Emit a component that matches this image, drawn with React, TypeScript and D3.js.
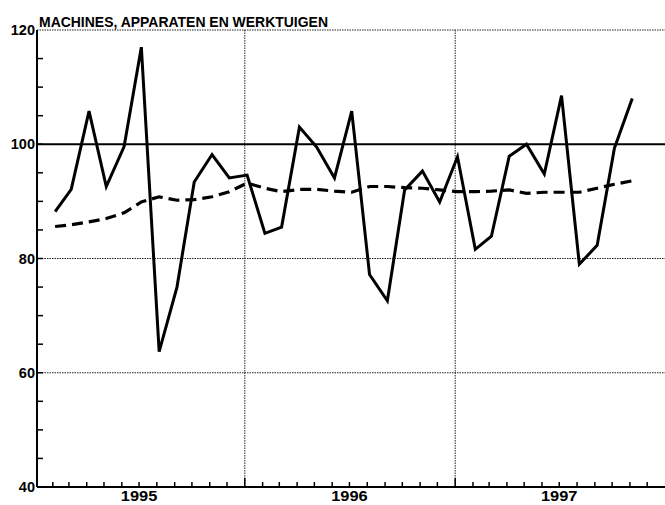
import React from "react";
import * as d3 from "d3";

const TITLE = "MACHINES, APPARATEN EN WERKTUIGEN";
const startYear = 1995;
const startMonth = 1; // February (0-based)
const actual = [88.2, 92.1, 105.8, 92.6, 99.6, 117.0, 63.7, 75.0, 93.4, 98.2, 94.1, 94.6, 84.4, 85.5, 103.0, 99.5, 94.1, 105.8, 77.2, 72.6, 92.0, 95.3, 89.9, 97.8, 81.6, 83.9, 97.9, 100.0, 94.8, 108.5, 79.0, 82.3, 99.3, 108.0];
const trend = [85.6, 85.9, 86.4, 87.0, 88.0, 89.9, 90.8, 90.2, 90.3, 90.8, 91.7, 93.2, 92.3, 91.7, 92.1, 92.1, 91.8, 91.6, 92.6, 92.6, 92.4, 92.3, 92.0, 91.7, 91.7, 91.8, 92.0, 91.4, 91.6, 91.6, 91.6, 92.3, 93.0, 93.6];
const yLabels = [40, 60, 80, 100, 120];
const yGrid = [60, 80, 120];
const yearLabels = [1995, 1996, 1997];

const W = 665, H = 505;
const left = 35, right = 665, top = 30, bottom = 487;

export default function App() {
  const x = d3.scaleTime().domain([new Date(1995, 0, 1), new Date(1998, 0, 1)]).range([left, right]);
  const y = d3.scaleLinear().domain([40, 120]).range([bottom, top]);
  const dates = actual.map((_, i) => new Date(startYear, startMonth + i, 5));
  const line = d3.line<number>().x((_, i) => x(dates[i])).y((d) => y(d));
  const monthTicks = x.ticks(d3.timeMonth.every(1)!).filter((d) => d > x.domain()[0] && d < x.domain()[1]);
  const minorY = d3.range(45, 120, 5);
  const axisX = left + 2;
  const font = "'Liberation Sans', Arial, sans-serif";

  return (
    <svg width={W} height={H} style={{ position: "absolute", left: 0, top: 0, background: "#fff" }}>
      <rect x={0} y={0} width={W} height={H} fill="#fff" />
      {yGrid.map((v) => (
        <line key={v} x1={axisX} x2={right} y1={y(v)} y2={y(v)} stroke="#222" strokeWidth={1} strokeDasharray="1.5 1" />
      ))}
      {[1996, 1997].map((yr) => (
        <line key={yr} x1={x(new Date(yr, 0, 1))} x2={x(new Date(yr, 0, 1))} y1={top} y2={bottom} stroke="#222" strokeWidth={1} strokeDasharray="1.5 1" />
      ))}
      <line x1={axisX} x2={right} y1={y(100)} y2={y(100)} stroke="#000" strokeWidth={1.8} />
      <line x1={axisX} x2={axisX} y1={top} y2={bottom} stroke="#000" strokeWidth={2} />
      <line x1={axisX} x2={right} y1={bottom} y2={bottom} stroke="#000" strokeWidth={2} />
      {minorY.map((v) => (
        <line key={v} x1={axisX} x2={axisX + 6} y1={y(v)} y2={y(v)} stroke="#000" strokeWidth={1.5} />
      ))}
      {monthTicks.map((d, i) => (
        <line key={i} x1={x(d)} x2={x(d)} y1={bottom} y2={bottom - (d.getMonth() === 0 ? 9 : 5)} stroke="#000" strokeWidth={1.5} />
      ))}
      {yLabels.map((v) => (
        <text key={v} x={left} y={y(v)} dy="0.36em" textAnchor="end" fontFamily={font} fontSize={14.5} fontWeight="bold" fill="#000">
          {v}
        </text>
      ))}
      {yearLabels.map((yr) => (
        <text key={yr} x={x(new Date(yr, 6, 1))} y={500.5} textAnchor="middle" fontFamily={font} fontSize={14} fontWeight="bold" fill="#000" textLength={36.5} lengthAdjust="spacingAndGlyphs">
          {yr}
        </text>
      ))}
      <text x={39} y={27} fontFamily={font} fontSize={15.5} fontWeight="bold" fill="#000" textLength={289} lengthAdjust="spacingAndGlyphs">
        {TITLE}
      </text>
      <path d={line(trend) || ""} fill="none" stroke="#000" strokeWidth={3.2} strokeDasharray="11 6" />
      <path d={line(actual) || ""} fill="none" stroke="#000" strokeWidth={3} strokeLinejoin="miter" strokeMiterlimit={4} />
    </svg>
  );
}
